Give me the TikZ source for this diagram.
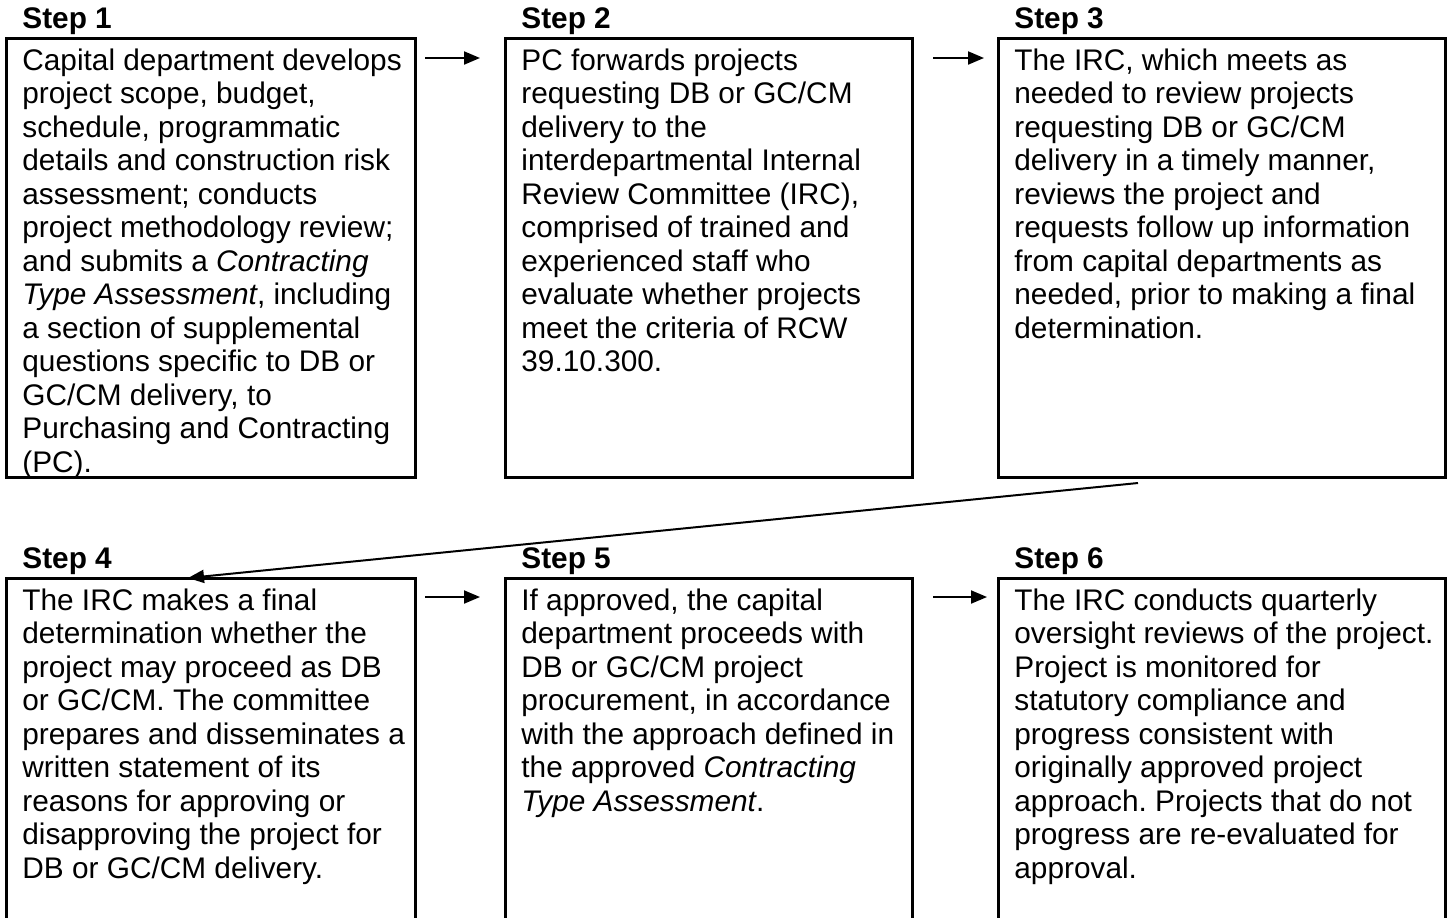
\documentclass[tikz,border=0pt]{standalone}
\usepackage{fontspec}
\setmainfont{Liberation Sans}
\frenchspacing
\usetikzlibrary{positioning}
\usetikzlibrary{arrows.meta}
\tikzstyle{stepbox} = [draw, line width=1.5pt, inner sep=0pt, outer sep=0pt, anchor=north west]
\tikzstyle{steptext} = [inner sep=0pt, align=left, anchor=north west, font=\fontsize{14.9}{16.75}\selectfont]
\tikzstyle{steplabel} = [inner sep=0pt, anchor=base west, font=\fontsize{14.9}{16.75}\selectfont\bfseries]
\tikzstyle{flow} = [line width=1pt, -{Triangle[length=8pt,width=6.5pt]}]

\begin{document}
\begin{tikzpicture}[
  x=0.5pt, y=-0.5pt,
  upper/.style={minimum height=219.5pt},
  lower/.style={minimum height=181pt},
]
\clip (0,0) rectangle (1449,917);

% frames, top row
\node[stepbox, upper, minimum width=204.5pt] (s1) at (6,38) {};
\node[stepbox, upper, minimum width=203.5pt, right=45pt of s1] (s2) {};
\node[stepbox, upper, minimum width=223.5pt, right=43pt of s2] (s3) {};
% frames, bottom row (run off the page)
\node[stepbox, lower, minimum width=204.5pt, below=50.5pt of s1] (s4) {};
\node[stepbox, lower, minimum width=203.5pt, right=45pt of s4] (s5) {};
\node[stepbox, lower, minimum width=223.5pt, right=43pt of s5] (s6) {};

% headings
\foreach \n in {1,...,6}
  \node[steplabel] (h\n) at ([shift={(16,-10)}]s\n.north west) {Step \n};

% step texts
\node[steptext] (t1) at ([shift={(16,10)}]s1.north west) {Capital department develops\\
  project scope, budget,\\
  schedule, programmatic\\
  details and construction risk\\
  assessment; conducts\\
  project methodology review;\\
  and submits a \textit{Contracting}\\
  \textit{Type Assessment}, including\\
  a section of supplemental\\
  questions specific to DB or\\
  GC/CM delivery, to\\
  Purchasing and Contracting\\
  (PC).};
\node[steptext] (t2) at ([shift={(16,10)}]s2.north west) {PC forwards projects\\
  requesting DB or GC/CM\\
  delivery to the\\
  interdepartmental Internal\\
  Review Committee (IRC),\\
  comprised of trained and\\
  experienced staff who\\
  evaluate whether projects\\
  meet the criteria of RCW\\
  39.10.300.};
\node[steptext] (t3) at ([shift={(16,10)}]s3.north west) {The IRC, which meets as\\
  needed to review projects\\
  requesting DB or GC/CM\\
  delivery in a timely manner,\\
  reviews the project and\\
  requests follow up information\\
  from capital departments as\\
  needed, prior to making a final\\
  determination.};
\node[steptext] (t4) at ([shift={(16,10)}]s4.north west) {The IRC makes a final\\
  determination whether the\\
  project may proceed as DB\\
  or GC/CM. The committee\\
  prepares and disseminates a\\
  written statement of its\\
  reasons for approving or\\
  disapproving the project for\\
  DB or GC/CM delivery.};
\node[steptext] (t5) at ([shift={(16,10)}]s5.north west) {If approved, the capital\\
  department proceeds with\\
  DB or GC/CM project\\
  procurement, in accordance\\
  with the approach defined in\\
  the approved \textit{Contracting}\\
  \textit{Type Assessment}.};
\node[steptext] (t6) at ([shift={(16,10)}]s6.north west) {The IRC conducts quarterly\\
  oversight reviews of the project.\\
  Project is monitored for\\
  statutory compliance and\\
  progress consistent with\\
  originally approved project\\
  approach. Projects that do not\\
  progress are re-evaluated for\\
  approval.};

% arrows between steps
\draw[flow] ([shift={(10,20)}]s1.north east) -- ([shift={(-25,20)}]s2.north west);
\draw[flow] ([shift={(21,20)}]s2.north east) -- ([shift={(-14,20)}]s3.north west);
\draw[flow] ([shift={(140,6)}]s3.south west) -- ([shift={(182,0)}]s4.north west);
\draw[flow] ([shift={(10,19)}]s4.north east) -- ([shift={(-25,19)}]s5.north west);
\draw[flow] ([shift={(21,19)}]s5.north east) -- ([shift={(-11,19)}]s6.north west);
\end{tikzpicture}
\end{document}
